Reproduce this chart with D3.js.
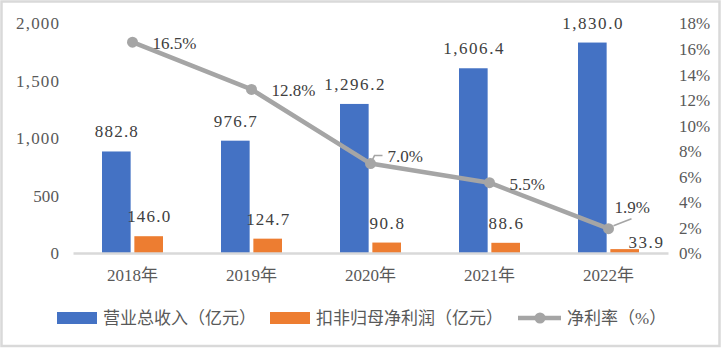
<!DOCTYPE html>
<html><head><meta charset="utf-8">
<script src="https://cdn.jsdelivr.net/npm/d3@7"></script>
<style>
html,body{margin:0;padding:0;background:#fff;}
svg{display:block;}
.num{font-family:"Liberation Serif",serif;}
.cjk{font-family:"Liberation Serif","Noto Sans CJK SC",sans-serif;}
</style></head><body>
<script>
const categories = ["2018年","2019年","2020年","2021年","2022年"];
const revenue = [882.8, 976.7, 1296.2, 1606.4, 1830.0];
const profit = [146.0, 124.7, 90.8, 88.6, 33.9];
const margin = [16.5, 12.8, 7.0, 5.5, 1.9];
const leftTicks = [0, 500, 1000, 1500, 2000];
const rightTicks = [0, 2, 4, 6, 8, 10, 12, 14, 16, 18];
const seriesNames = ["营业总收入（亿元）","扣非归母净利润（亿元）","净利率（%）"];

const W = 722, H = 348;
const CH = 8.6; // per-character advance of the half-width glyphs in the reference
const svg = d3.select("body").append("svg").attr("width", W).attr("height", H);
svg.append("rect").attr("x",1.5).attr("y",1.5).attr("width",718).attr("height",344.5)
  .attr("fill","#fff").attr("stroke","#d9d9d9").attr("stroke-width",2.5);

const plot = {l:73, r:668, t:23, b:253};
const x = d3.scaleBand().domain(categories).range([plot.l, plot.r]);
const sub = d3.scaleBand().domain(["rev","pro"]).range([29, 90]).paddingInner(0.115);
const yL = d3.scaleLinear().domain([0,2000]).range([plot.b, plot.t]);
const yR = d3.scaleLinear().domain([0,18]).range([plot.b, plot.t]);

const txt = "#595959", lab = "#404040";
const fmt = d3.format(",.1f");
function mono(sel){
  sel.attr("class","num").style("font-size","17px");
  sel.each(function(){
    const target = this.textContent.length*CH;
    const nat = this.getComputedTextLength();
    if (nat < target) d3.select(this).attr("textLength", target).attr("lengthAdjust","spacing");
  });
}

// left axis
const gl = svg.append("g").attr("transform",`translate(${plot.l},0)`)
  .call(d3.axisLeft(yL).tickValues(leftTicks).tickFormat(d3.format(",")).tickSize(0).tickPadding(14));
gl.attr("font-family",null);
gl.select(".domain").remove();
gl.selectAll("text").attr("fill",txt).attr("dy","0.35em").call(mono);

// right axis
const gr = svg.append("g").attr("transform",`translate(${plot.r},0)`)
  .call(d3.axisRight(yR).tickValues(rightTicks).tickFormat(d=>d+"%").tickSize(0).tickPadding(11));
gr.attr("font-family",null);
gr.select(".domain").remove();
gr.selectAll("text").attr("fill",txt).attr("dy","0.35em").call(mono);

// bars
const blue = "#4472c4", orange = "#ed7d31", gray = "#a5a5a5";
svg.selectAll(".rev").data(revenue).join("rect")
  .attr("x",(d,i)=>x(categories[i])+sub("rev")).attr("width",sub.bandwidth())
  .attr("y",d=>yL(d)).attr("height",d=>plot.b-yL(d)).attr("fill",blue);
svg.selectAll(".pro").data(profit).join("rect")
  .attr("x",(d,i)=>x(categories[i])+sub("pro")).attr("width",sub.bandwidth())
  .attr("y",d=>yL(d)).attr("height",d=>plot.b-yL(d)).attr("fill",orange);

// x axis
const gx = svg.append("g").attr("transform",`translate(0,${plot.b})`)
  .call(d3.axisBottom(x).tickSize(0).tickPadding(16));
gx.attr("font-family",null);
gx.select(".domain").attr("stroke","#d9d9d9").attr("stroke-width",2.5);
gx.selectAll("text").attr("fill",txt).attr("class","cjk").style("font-size","17px");

// bar labels
svg.selectAll(".revl").data(revenue).join("text")
  .attr("x",(d,i)=>x(categories[i])+sub("rev")+sub.bandwidth()/2)
  .attr("y",d=>yL(d)-20).attr("dy","0.35em").attr("text-anchor","middle")
  .attr("fill",lab).text(d=>fmt(d)).call(mono);
const proOff = [[0,0],[0,0],[0,0],[0,0],[21,13]];
svg.selectAll(".prol").data(profit).join("text")
  .attr("x",(d,i)=>x(categories[i])+sub("pro")+sub.bandwidth()/2+proOff[i][0])
  .attr("y",(d,i)=>yL(d)-20+proOff[i][1]).attr("dy","0.35em").attr("text-anchor","middle")
  .attr("fill",lab).text(d=>fmt(d)).call(mono);

// line
const cx = c => x(c)+x.bandwidth()/2;
const line = d3.line().x((d,i)=>cx(categories[i])).y(d=>yR(d));
svg.append("path").datum(margin).attr("d",line).attr("fill","none")
  .attr("stroke",gray).attr("stroke-width",4.5).attr("stroke-linejoin","round");
svg.selectAll(".pt").data(margin).join("circle")
  .attr("cx",(d,i)=>cx(categories[i])).attr("cy",d=>yR(d)).attr("r",5.5).attr("fill",gray);

// leader lines
const p2 = [cx(categories[2]), yR(margin[2])];
svg.append("path").attr("d",`M${p2[0]+1},${p2[1]-2}L${p2[0]+4},${p2[1]-8}L${p2[0]+12},${p2[1]-8}`)
  .attr("fill","none").attr("stroke",gray).attr("stroke-width",1.5);
const p4 = [cx(categories[4]), yR(margin[4])];
svg.append("path").attr("d",`M${p4[0]+5},${p4[1]-3}L${p4[0]+23},${p4[1]-10}`)
  .attr("fill","none").attr("stroke",gray).attr("stroke-width",1.5);

const mOff = [[20,1],[20,1],[17,-8],[20,1],[6,-22]];
svg.selectAll(".ml").data(margin).join("text")
  .attr("x",(d,i)=>cx(categories[i])+mOff[i][0]).attr("y",(d,i)=>yR(d)+mOff[i][1])
  .attr("dy","0.35em").attr("fill",lab).text(d=>d.toFixed(1)+"%").call(mono);

// legend
const lg = svg.append("g");
const ly = 318;
lg.append("rect").attr("x",57).attr("y",ly-6).attr("width",40).attr("height",12).attr("fill",blue);
lg.append("text").attr("class","cjk").attr("x",103).attr("y",ly).attr("dy","0.35em").attr("fill",txt).style("font-size","17px").text(seriesNames[0]);
lg.append("rect").attr("x",270).attr("y",ly-6).attr("width",40).attr("height",12).attr("fill",orange);
lg.append("text").attr("class","cjk").attr("x",316).attr("y",ly).attr("dy","0.35em").attr("fill",txt).style("font-size","17px").text(seriesNames[1]);
lg.append("line").attr("x1",518).attr("x2",561).attr("y1",ly).attr("y2",ly).attr("stroke",gray).attr("stroke-width",4.5);
lg.append("circle").attr("cx",540).attr("cy",ly).attr("r",5.5).attr("fill",gray);
lg.append("text").attr("class","cjk").attr("x",567).attr("y",ly).attr("dy","0.35em").attr("fill",txt).style("font-size","17px").text(seriesNames[2]);
</script>
</body></html>
